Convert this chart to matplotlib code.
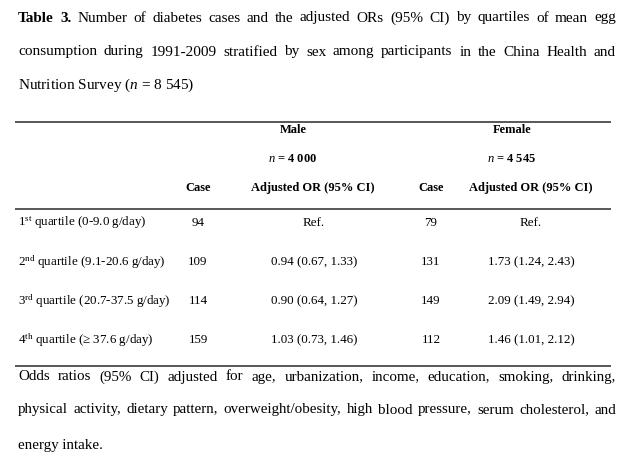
import matplotlib
matplotlib.use('Agg')
import matplotlib.pyplot as plt

plt.rcParams['font.family'] = ['Liberation Serif', 'DejaVu Serif']
plt.rcParams['mathtext.fontset'] = 'custom'
plt.rcParams['mathtext.rm'] = 'Liberation Serif'
plt.rcParams['mathtext.it'] = 'Liberation Serif:italic'
plt.rcParams['mathtext.bf'] = 'Liberation Serif:bold'

# table data
quartiles = ['1$^{\\mathrm{st}}$ quartile (0-9.0 g/day)',
             '2$^{\\mathrm{nd}}$ quartile (9.1-20.6 g/day)',
             '3$^{\\mathrm{rd}}$ quartile (20.7-37.5 g/day)',
             '4$^{\\mathrm{th}}$ quartile (\u2265 37.6 g/day)']
male_cases = [94, 109, 114, 159]
male_or = ['Ref.', '0.94 (0.67, 1.33)', '0.90 (0.64, 1.27)', '1.03 (0.73, 1.46)']
female_cases = [79, 131, 149, 112]
female_or = ['Ref.', '1.73 (1.24, 2.43)', '2.09 (1.49, 2.94)', '1.46 (1.01, 2.12)']

title_lines = [
    [('Table', 'bold'), ('3.', 'bold')] + [(w, 'normal') for w in
        'Number of diabetes cases and the adjusted ORs (95% CI)  by quartiles of mean egg'.split()],
    [(w, 'normal') for w in
        'consumption during 1991-2009 stratified by sex among participants in the China Health and'.split()],
]
title_last = 'Nutrition Survey ($\\mathit{n}$ = 8 545)'
note_lines = [
    'Odds ratios (95% CI) adjusted for age, urbanization, income, education, smoking, drinking,',
    'physical activity, dietary pattern, overweight/obesity, high blood pressure, serum cholesterol, and',
]
note_last = 'energy intake.'

fig = plt.figure(figsize=(6.4, 4.57), dpi=100)
ax = fig.add_axes([0, 0, 1, 1])
ax.set_xlim(0, 640)
ax.set_ylim(457, 0)
ax.axis('off')
renderer = fig.canvas.get_renderer()

PSIZE = 11.0
NSIZE = 10.8
TSIZE = 9.4
HSIZE = 9.0


def justified(words, y, x0=18, x1=616, size=PSIZE):
    texts = [ax.text(0, y, w, fontsize=size, fontweight=wt, va='center', ha='left')
             for w, wt in words]
    widths = [t.get_window_extent(renderer).width for t in texts]
    gap = (x1 - x0 - sum(widths)) / (len(texts) - 1)
    x = x0
    for t, w in zip(texts, widths):
        t.set_x(x)
        x += w + gap


justified(title_lines[0], 18)
justified(title_lines[1], 52)
ax.text(18, 85, title_last, fontsize=PSIZE, va='center', ha='left')

# rules
ax.hlines([122, 209, 366], 15, 611, color='#2a2a2a', lw=1.1)

# headers
for cx, lab, n in [(293, 'Male', '4 000'), (512, 'Female', '4 545')]:
    ax.text(cx, 130, lab, fontsize=HSIZE, fontweight='bold', ha='center', va='center')
    ax.text(cx, 159, '$\\mathbf{\\mathit{n}}$ = ' + n, fontsize=HSIZE, fontweight='bold',
            ha='center', va='center')
for cx in [198, 431]:
    ax.text(cx, 188, 'Case', fontsize=HSIZE, fontweight='bold', ha='center', va='center')
for cx in [313, 531]:
    ax.text(cx, 188, 'Adjusted OR (95% CI)', fontsize=HSIZE, fontweight='bold',
            ha='center', va='center')

row_y = [223, 262, 301, 340]
for i, y in enumerate(row_y):
    ax.text(18, y, quartiles[i], fontsize=TSIZE, ha='left', va='center')
    ax.text(198, y, str(male_cases[i]), fontsize=TSIZE, ha='center', va='center')
    ax.text(314, y, male_or[i], fontsize=TSIZE, ha='center', va='center')
    ax.text(431, y, str(female_cases[i]), fontsize=TSIZE, ha='center', va='center')
    ax.text(531, y, female_or[i], fontsize=TSIZE, ha='center', va='center')

justified([(w, 'normal') for w in note_lines[0].split()], 377, size=NSIZE)
justified([(w, 'normal') for w in note_lines[1].split()], 410, size=NSIZE)
ax.text(18, 445, note_last, fontsize=NSIZE, va='center', ha='left')

fig.savefig('out.png', dpi=100, facecolor='white')
